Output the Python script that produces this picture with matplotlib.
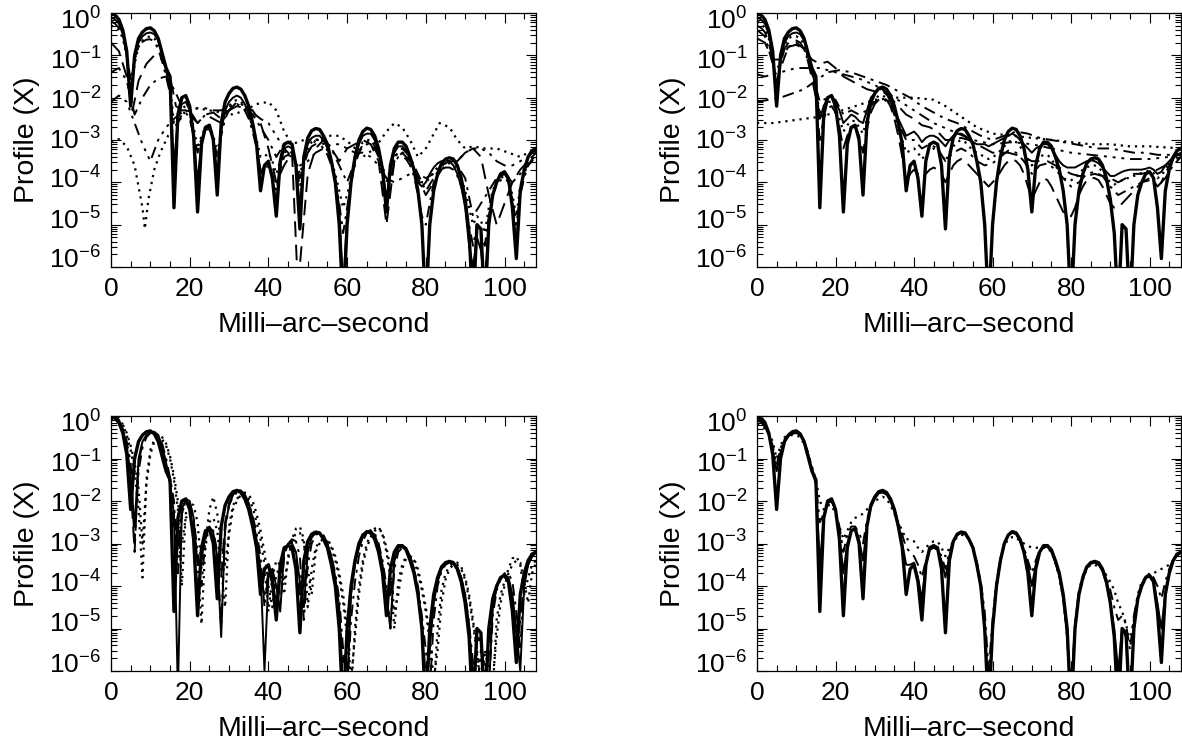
import numpy as np
import matplotlib
matplotlib.use("Agg")
import matplotlib.pyplot as plt
from matplotlib.ticker import FixedLocator, NullFormatter
from matplotlib.transforms import ScaledTranslation

plt.rcParams['font.family'] = ['Liberation Sans', 'DejaVu Sans']
plt.rcParams['mathtext.fontset'] = 'custom'
plt.rcParams['mathtext.rm'] = 'Liberation Sans'
plt.rcParams['mathtext.it'] = 'Liberation Sans:italic'

# sampling positions (milli-arc-second)
x1 = list(range(0, 109))
x2 = list(range(0, 109, 2))

# all profiles below are log10 of the value

# ideal profile, the thick solid line drawn in every panel
base_log = [
    0.0, -0.05, -0.15, -0.4, -0.9, -2.2, -1.0, -0.6, -0.45, -0.37,
    -0.35, -0.42, -0.6, -0.95, -1.3, -1.5, -4.6, -2.4, -2.0, -1.95,
    -2.2, -2.9, -4.7, -3.1, -2.7, -2.65, -3.0, -4.3, -2.6, -2.1,
    -1.9, -1.78, -1.75, -1.8, -1.95, -2.2, -2.6, -3.1, -4.2, -3.6,
    -3.5, -3.9, -4.8, -3.5, -3.1, -3.05, -3.1, -3.6, -5.1, -3.4,
    -2.95, -2.78, -2.73, -2.75, -2.9, -3.1, -3.5, -4.0, -5.0, -7.0,
    -5.0, -4.0, -3.4, -3.0, -2.8, -2.72, -2.75, -2.9, -3.2, -3.7,
    -4.7, -3.6, -3.2, -3.05, -3.05, -3.15, -3.4, -3.7, -4.2, -5.0,
    -7.0, -5.0, -4.2, -3.8, -3.55, -3.45, -3.42, -3.45, -3.6, -3.9,
    -4.4, -5.2, -7.0, -5.0, -5.1, -7.0, -5.0, -4.3, -4.0, -3.8,
    -3.75, -3.9, -4.6, -5.8, -4.2, -3.7, -3.4, -3.25, -3.2]

# ---- top left
tl_solid_log = [
    -0.1, -0.15, -0.25, -0.5, -1.0, -2.0, -1.1, -0.7, -0.55, -0.48,
    -0.46, -0.5, -0.65, -0.95, -1.35, -1.8, -3.6, -2.5, -2.15, -2.1,
    -2.3, -2.9, -4.0, -3.0, -2.7, -2.7, -3.0, -3.8, -2.8, -2.3,
    -2.1, -2.0, -1.95, -2.0, -2.15, -2.4, -2.7, -3.1, -3.8, -3.6,
    -3.55, -3.9, -4.5, -3.6, -3.2, -3.15, -3.2, -3.6, -4.6, -3.5,
    -3.1, -2.95, -2.9, -2.9, -3.0, -3.2, -3.5, -3.9, -4.6, -6.5,
    -4.8, -4.0, -3.5, -3.1, -2.9, -2.85, -2.85, -3.0, -3.3, -3.7,
    -4.4, -3.7, -3.3, -3.15, -3.15, -3.25, -3.45, -3.7, -4.0, -4.1,
    -4.0, -3.8, -3.65, -3.55, -3.5, -3.48, -3.5, -3.6, -3.8, -4.1,
    -4.6, -5.5, -6.0, -5.3, -5.6, -6.5, -4.9, -4.3, -4.0, -3.85,
    -3.8, -3.95, -4.5, -5.5, -4.2, -3.7, -3.4, -3.3, -3.25]
tl_dot_log = [
    -0.3, -0.33, -0.4, -0.6, -1.0, -1.9, -1.2, -0.8, -0.65, -0.58,
    -0.55, -0.6, -0.75, -1.0, -1.35, -1.7, -2.6, -2.5, -2.25, -2.2,
    -2.35, -2.7, -3.2, -2.9, -2.7, -2.7, -2.9, -3.3, -2.8, -2.4,
    -2.2, -2.1, -2.05, -2.1, -2.2, -2.4, -2.7, -3.0, -3.4, -3.4,
    -3.3, -3.5, -3.8, -3.5, -3.3, -3.25, -3.3, -3.5, -3.8, -3.5,
    -3.2, -3.05, -3.0, -3.0, -3.1, -3.25, -3.5, -3.8, -4.2, -4.6,
    -4.3, -3.9, -3.5, -3.2, -3.05, -3.0, -3.0, -3.1, -3.3, -3.6,
    -4.0, -3.7, -3.4, -3.3, -3.3, -3.35, -3.5, -3.7, -3.9, -4.0,
    -4.0, -3.9, -3.75, -3.65, -3.6, -3.55, -3.55, -3.6, -3.7, -3.9,
    -4.2, -4.6, -5.0, -4.8, -4.9, -5.2, -4.6, -4.2, -4.0, -3.9,
    -3.85, -3.95, -4.3, -4.8, -4.1, -3.8, -3.55, -3.4, -3.35]
tl_dashdot2_log = [
    -0.2, -0.25, -0.35, -0.55, -0.95, -1.6, -1.1, -0.8, -0.68, -0.63,
    -0.62, -0.68, -0.85, -1.15, -1.5, -1.9, -2.7, -2.6, -2.4, -2.35,
    -2.5, -2.9, -3.3, -2.95, -2.75, -2.75, -2.95, -3.4, -2.9, -2.5,
    -2.3, -2.2, -2.15, -2.2, -2.3, -2.5, -2.8, -3.2, -3.7, -3.7,
    -3.6, -3.8, -4.2, -3.7, -3.4, -3.35, -3.4, -3.6, -4.1, -3.6,
    -3.3, -3.15, -3.1, -3.1, -3.2, -3.35, -3.6, -4.0, -4.5, -5.2,
    -4.6, -4.0, -3.6, -3.3, -3.15, -3.1, -3.1, -3.2, -3.4, -3.8,
    -4.4, -3.9, -3.55, -3.4, -3.4, -3.45, -3.6, -3.85, -4.3, -4.8,
    -5.0, -4.5, -4.0, -3.8, -3.7, -3.65, -3.65, -3.7, -3.85, -4.1,
    -4.5, -5.0, -5.5, -5.0, -5.2, -5.5, -4.8, -4.3, -4.05, -3.95,
    -3.9, -4.0, -4.4, -5.0, -4.3, -3.9, -3.6, -3.45, -3.4]
tl_faint_x = [0, 2, 4, 6, 7, 8, 8.6, 9.5, 11, 12.5, 14.5, 17, 19, 22, 25, 28, 31,
              34, 37, 40, 42, 44, 46, 49, 52, 55, 58, 61, 64, 67, 70, 72, 74, 76,
              78, 80, 83.5, 86, 88, 90, 92, 95, 98, 101, 104, 108]
tl_faint_log = [-3.05, -2.98, -3.15, -3.6, -4.1, -4.6, -5.1, -4.4, -3.7, -3.3,
                -2.9, -2.6, -2.3, -2.25, -2.3, -2.35, -2.4, -2.3, -2.15, -2.1,
                -2.3, -2.8, -3.1, -3.0, -3.0, -2.9, -2.9, -3.1, -3.4, -3.2,
                -2.8, -2.6, -2.7, -3.0, -3.4, -3.2, -2.6, -2.7, -3.0, -3.2,
                -3.15, -3.2, -3.2, -3.3, -3.4, -3.2]
tl_dash_x = [0, 2, 4, 5.5, 7, 9, 11, 13, 15, 16.5, 18, 20, 22, 24, 26, 28, 30,
             32, 34, 36, 38, 40, 42, 44, 46, 47.5, 50, 52, 54, 56, 58, 60, 62, 64,
             66, 68, 70, 72, 74, 76, 78, 80, 82, 84, 86, 88, 90, 92, 94, 96, 98,
             100, 102, 104, 106, 108]
tl_dash_log = [-0.7, -0.9, -1.5, -2.3, -1.6, -1.2, -1.0, -1.1, -1.5, -2.2,
               -2.3, -2.3, -2.6, -2.4, -2.35, -2.5, -2.3, -2.2, -2.2, -2.3,
               -2.6, -3.2, -4.0, -3.6, -3.3, -6.5, -3.8, -3.2, -3.0, -3.2,
               -3.5, -3.2, -3.1, -3.0, -3.1, -3.5, -5.0, -3.5, -3.3, -3.5,
               -3.9, -4.3, -4.0, -3.7, -3.5, -3.5, -3.3, -3.2, -3.4, -4.3,
               -5.0, -4.5, -4.0, -3.7, -3.5, -3.3]
tl_dd3_log = [-2.1, -1.95, -2.1, -2.6, -3.1, -3.5, -3.0, -2.7, -2.5, -2.35,
              -2.3, -2.25, -2.25, -2.3, -2.3, -2.2, -2.2, -2.25, -2.35, -2.5,
              -2.6, -2.9, -3.2, -3.4, -3.6, -3.5, -3.3, -3.2, -3.1, -3.1,
              -3.2, -3.3, -3.3, -3.4, -3.6, -3.9, -4.0, -3.9, -3.8, -3.8,
              -3.9, -3.8, -3.6, -3.5, -3.5, -3.3, -3.2, -3.2, -3.3, -3.5,
              -3.6, -3.6, -3.5, -3.4, -3.3]
tl_dashdot_log = [-1.4, -1.3, -1.6, -2.4, -2.0, -1.7, -1.55, -1.5, -1.8, -2.2,
                  -2.4, -2.6, -2.4, -2.5, -2.6, -2.3, -2.1, -2.2, -2.4, -2.7,
                  -3.0, -3.4, -3.1, -3.2, -3.9, -3.3, -3.0, -3.0, -3.2, -3.6,
                  -4.0, -3.5, -3.1, -3.0, -3.3, -4.0, -3.4, -3.2, -3.4, -3.8,
                  -4.2, -3.9, -3.6, -3.5, -3.6, -3.9, -4.8, -4.5, -4.2, -3.9,
                  -3.8, -4.0, -3.8, -3.6, -3.4]

# ---- top right
tr_solid_log = [
    -0.1, -0.15, -0.25, -0.5, -1.0, -2.0, -1.1, -0.7, -0.55, -0.48,
    -0.46, -0.5, -0.65, -0.95, -1.35, -1.8, -2.5, -2.2, -2.0, -1.95,
    -2.1, -2.3, -2.6, -2.5, -2.4, -2.45, -2.55, -2.6, -2.3, -2.0,
    -1.9, -1.8, -1.8, -1.9, -2.1, -2.3, -2.5, -2.7, -2.9, -2.85,
    -2.8, -2.9, -3.05, -2.95, -2.9, -2.9, -2.95, -3.05, -3.15, -3.0,
    -2.9, -2.85, -2.85, -2.9, -3.0, -3.05, -3.1, -3.1, -3.1, -3.15,
    -3.1, -3.05, -3.0, -2.95, -2.9, -2.85, -2.9, -3.0, -3.1, -3.2,
    -3.3, -3.2, -3.15, -3.1, -3.1, -3.2, -3.35, -3.5, -3.6, -3.65,
    -3.65, -3.65, -3.6, -3.55, -3.5, -3.48, -3.5, -3.55, -3.65, -3.75,
    -3.85, -3.85, -3.8, -3.75, -3.72, -3.7, -3.7, -3.7, -3.7, -3.68,
    -3.65, -3.7, -3.8, -3.75, -3.6, -3.5, -3.4, -3.35, -3.3]
tr_dot2_log = [
    -0.2, -0.25, -0.35, -0.6, -1.05, -1.9, -1.15, -0.75, -0.6, -0.55,
    -0.55, -0.6, -0.75, -1.05, -1.4, -1.8, -2.4, -2.2, -2.1, -2.1,
    -2.25, -2.5, -2.8, -2.65, -2.55, -2.55, -2.7, -2.85, -2.5, -2.2,
    -2.05, -1.95, -1.95, -2.0, -2.15, -2.4, -2.7, -3.0, -3.3, -3.25,
    -3.2, -3.3, -3.45, -3.35, -3.25, -3.2, -3.25, -3.35, -3.5, -3.3,
    -3.15, -3.05, -3.0, -3.05, -3.15, -3.25, -3.3, -3.35, -3.4, -3.45,
    -3.4, -3.35, -3.25, -3.15, -3.05, -3.0, -3.05, -3.15, -3.3, -3.45,
    -3.6, -3.5, -3.4, -3.35, -3.35, -3.45, -3.6, -3.75, -3.9, -3.95,
    -3.95, -3.9, -3.8, -3.7, -3.65, -3.6, -3.6, -3.65, -3.75, -3.9,
    -4.0, -4.05, -4.0, -3.95, -3.9, -3.9, -3.85, -3.8, -3.78, -3.75,
    -3.72, -3.78, -3.9, -3.85, -3.7, -3.55, -3.45, -3.35, -3.3]
tr_dash2_log = [
    -0.3, -0.35, -0.45, -0.7, -1.1, -1.7, -1.2, -0.85, -0.7, -0.65,
    -0.65, -0.7, -0.85, -1.15, -1.55, -2.0, -3.0, -2.5, -2.25, -2.2,
    -2.35, -2.7, -3.2, -2.9, -2.7, -2.7, -2.9, -3.3, -2.75, -2.35,
    -2.15, -2.05, -2.0, -2.05, -2.2, -2.5, -2.9, -3.4, -4.0, -3.8,
    -3.7, -3.8, -3.9, -3.8, -3.7, -3.65, -3.7, -3.8, -4.0, -3.8,
    -3.6, -3.5, -3.45, -3.5, -3.6, -3.7, -3.8, -3.9, -4.0, -4.1,
    -4.0, -3.9, -3.75, -3.6, -3.5, -3.45, -3.5, -3.6, -3.8, -4.1,
    -4.4, -4.2, -4.0, -3.9, -3.95, -4.1, -4.3, -4.5, -4.7, -4.8,
    -4.8, -4.6, -4.3, -4.1, -3.95, -3.9, -3.9, -3.95, -4.1, -4.3,
    -4.5, -4.6, -4.6, -4.5, -4.4, -4.3, -4.2, -4.1, -4.0, -3.95,
    -3.9, -3.95, -4.1, -4.0, -3.8, -3.6, -3.45, -3.35, -3.3]
tr_dashdot2_log = [-0.4, -0.55, -1.2, -1.3, -0.8, -0.7, -0.85, -1.4, -2.1, -2.0,
                   -2.05, -2.4, -2.3, -2.4, -2.3, -2.1, -2.0, -2.2, -2.6, -3.0,
                   -3.0, -3.2, -3.1, -3.2, -3.5, -3.3, -3.2, -3.3, -3.5, -3.6,
                   -3.55, -3.4, -3.25, -3.3, -3.5, -3.8, -3.6, -3.55, -3.7, -3.9,
                   -4.1, -4.0, -3.8, -3.75, -3.85, -4.1, -4.3, -4.2, -4.1, -4.0,
                   -3.95, -4.1, -3.9, -3.6, -3.4]
tr_halo_x = [0, 4, 8, 12, 16, 20, 25, 30, 35, 40, 45, 48, 52, 56, 60, 65, 70,
             75, 80, 85, 90, 95, 100, 105, 108]
tr_halo_log = [-2.6, -2.6, -2.55, -2.5, -2.45, -2.35, -2.2, -2.05, -2.0, -2.0,
               -2.05, -2.2, -2.45, -2.7, -2.85, -2.9, -2.95, -3.0, -3.05, -3.1,
               -3.1, -3.15, -3.15, -3.18, -3.2]
tr_x3 = list(range(0, 109, 3))
tr_dashdot_log = [-2.1, -2.05, -2.0, -1.9, -1.8, -1.6, -1.4, -1.35, -1.4, -1.5,
                  -1.6, -1.7, -1.85, -2.0, -2.2, -2.35, -2.5, -2.6, -2.75, -2.9,
                  -3.0, -2.9, -2.8, -2.85, -2.95, -3.0, -3.05, -3.1, -3.15, -3.2,
                  -3.2, -3.25, -3.3, -3.3, -3.35, -3.35, -3.35]
tr_dd3_x = [0, 2, 4, 6, 8, 10, 12, 14, 16, 18, 20, 22, 24, 26, 30, 35, 40, 45,
            50, 55, 60, 65, 70, 75, 80, 85, 90, 95, 100, 105, 108]
tr_dd3_log = [-1.45, -1.5, -1.45, -1.4, -1.35, -1.3, -1.3, -1.3, -1.3, -1.35,
              -1.4, -1.45, -1.5, -1.55, -1.7, -2.0, -2.3, -2.6, -2.8, -3.0,
              -3.1, -3.05, -3.1, -3.2, -3.3, -3.35, -3.4, -3.45, -3.45, -3.4,
              -3.35]
tr_dash_log = [-0.6, -0.7, -1.1, -1.1, -0.8, -0.75, -0.85, -1.1, -1.2, -1.15,
               -1.3, -1.5, -1.6, -1.7, -1.8, -1.85, -1.85, -2.0, -2.2, -2.4,
               -2.5, -2.65, -2.7, -2.8, -3.0, -3.0, -2.95, -3.0, -3.1, -3.2,
               -3.3, -3.3, -3.3, -3.35, -3.4, -3.5, -3.5, -3.5, -3.6, -3.7,
               -3.8, -3.85, -3.85, -3.8, -3.85, -3.9, -4.0, -3.9, -3.8, -3.8,
               -3.75, -3.7, -3.6, -3.5, -3.4]

# ---- bottom left
bl_solid_log = [
    -0.02, -0.03, -0.1, -0.3, -0.7, -1.4, -2.6, -1.0, -0.6, -0.45,
    -0.38, -0.37, -0.45, -0.7, -1.1, -1.6, -2.3, -6.5, -2.2, -1.95,
    -2.0, -2.4, -3.5, -3.4, -2.75, -2.6, -2.75, -3.3, -5.2, -2.6,
    -2.1, -1.85, -1.75, -1.75, -1.85, -2.05, -2.4, -2.9, -3.6, -6.0,
    -3.8, -3.6, -4.0, -4.6, -3.2, -3.0, -3.0, -3.2, -3.9, -4.5,
    -3.2, -2.85, -2.75, -2.75, -2.85, -3.0, -3.3, -3.8, -4.5, -6.5,
    -6.5, -4.2, -3.5, -3.1, -2.85, -2.72, -2.7, -2.8, -3.05, -3.5,
    -4.2, -5.0, -3.4, -3.1, -3.05, -3.1, -3.3, -3.6, -4.1, -5.0,
    -6.5, -5.5, -4.4, -3.9, -3.6, -3.47, -3.42, -3.45, -3.55, -3.8,
    -4.2, -4.9, -6.5, -5.2, -5.3, -6.5, -6.5, -4.5, -4.05, -3.8,
    -3.72, -3.8, -4.2, -5.0, -6.0, -4.0, -3.5, -3.3, -3.2]
bl_dot_log = [
    -0.05, 0.0, -0.05, -0.2, -0.45, -0.8, -1.3, -2.2, -3.8, -1.5,
    -0.8, -0.55, -0.45, -0.5, -0.65, -0.95, -1.4, -2.0, -3.0, -2.4,
    -2.3, -2.6, -3.5, -4.9, -3.0, -2.2, -1.9, -2.3, -3.0, -3.5,
    -2.8, -2.2, -2.0, -1.85, -1.8, -1.85, -2.0, -2.3, -2.7, -3.2,
    -4.0, -4.5, -3.7, -3.6, -3.9, -3.4, -2.9, -2.65, -2.6, -2.9,
    -4.5, -3.6, -3.1, -2.95, -2.9, -2.95, -3.1, -3.4, -3.8, -4.4,
    -5.2, -6.5, -5.0, -4.0, -3.4, -3.0, -2.8, -2.65, -2.6, -2.8,
    -3.2, -3.8, -5.0, -3.9, -3.5, -3.3, -3.3, -3.4, -3.7, -4.1,
    -4.6, -5.3, -6.5, -5.0, -4.1, -3.7, -3.55, -3.45, -3.45, -3.55,
    -3.8, -4.2, -4.8, -5.5, -6.5, -5.5, -6.0, -6.5, -4.8, -4.2,
    -3.9, -3.6, -3.35, -3.3, -3.5, -4.2, -3.8, -3.5, -3.4]
bl_dot2_log = [
    -0.1, -0.08, -0.1, -0.2, -0.4, -0.7, -1.1, -1.7, -3.0, -1.6,
    -0.9, -0.6, -0.5, -0.55, -0.7, -1.0, -1.5, -2.2, -4.0, -2.3,
    -2.05, -2.1, -2.5, -3.6, -3.1, -2.5, -2.4, -2.7, -3.6, -4.5,
    -2.6, -2.1, -1.95, -1.85, -1.85, -1.95, -2.15, -2.5, -2.9, -3.5,
    -4.6, -3.8, -3.4, -3.5, -4.2, -3.3, -2.95, -2.75, -2.75, -3.0,
    -3.6, -4.2, -3.2, -3.0, -2.9, -2.9, -3.05, -3.3, -3.7, -4.2,
    -5.0, -6.2, -5.2, -4.2, -3.5, -3.1, -2.85, -2.7, -2.65, -2.75,
    -3.1, -3.6, -4.6, -4.2, -3.6, -3.35, -3.3, -3.35, -3.6, -4.0,
    -4.5, -5.2, -6.2, -5.5, -4.4, -3.85, -3.6, -3.5, -3.5, -3.6,
    -3.85, -4.3, -4.9, -5.6, -6.2, -5.6, -5.8, -6.2, -5.2, -4.4,
    -4.0, -3.7, -3.5, -3.4, -3.45, -3.9, -4.4, -3.7, -3.45]
bl_dash_log = [
    0.0, -0.03, -0.12, -0.35, -0.75, -1.6, -3.2, -1.1, -0.65, -0.47,
    -0.4, -0.4, -0.5, -0.75, -1.15, -1.6, -2.6, -3.2, -2.3, -2.0,
    -2.1, -2.6, -4.2, -3.3, -2.8, -2.7, -2.85, -3.6, -3.8, -2.5,
    -2.05, -1.85, -1.77, -1.78, -1.9, -2.15, -2.5, -3.0, -3.8, -4.2,
    -3.7, -3.7, -4.6, -3.8, -3.2, -3.05, -3.05, -3.3, -4.2, -4.2,
    -3.1, -2.85, -2.75, -2.77, -2.9, -3.1, -3.45, -3.9, -4.7, -5.8,
    -5.5, -4.1, -3.45, -3.05, -2.85, -2.75, -2.72, -2.85, -3.1, -3.6,
    -4.5, -4.2, -3.4, -3.1, -3.08, -3.15, -3.35, -3.65, -4.1, -4.8,
    -6.2, -5.3, -4.3, -3.85, -3.6, -3.48, -3.43, -3.47, -3.6, -3.85,
    -4.3, -5.0, -6.2, -5.3, -5.2, -6.2, -5.6, -4.5, -4.0, -3.8,
    -3.72, -3.85, -4.3, -5.5, -4.8, -3.9, -3.5, -3.3, -3.22]
bl_dashdot_log = [
    -0.02, -0.05, -0.15, -0.3, -0.6, -1.1, -3.0, -1.3, -0.75, -0.5,
    -0.4, -0.38, -0.45, -0.65, -1.0, -1.45, -2.0, -3.7, -2.3, -2.0,
    -2.05, -2.4, -3.2, -4.0, -2.9, -2.6, -2.7, -3.2, -5.0, -2.7,
    -2.1, -1.9, -1.8, -1.78, -1.85, -2.05, -2.35, -2.75, -3.3, -4.5,
    -3.7, -3.6, -4.3, -4.5, -3.3, -3.0, -2.9, -2.95, -3.3, -4.8,
    -3.5, -3.0, -2.8, -2.75, -2.8, -3.0, -3.3, -3.7, -4.3, -5.5,
    -6.5, -4.8, -3.9, -3.3, -2.95, -2.75, -2.68, -2.75, -3.0, -3.4,
    -4.0, -5.0, -3.6, -3.2, -3.1, -3.15, -3.3, -3.6, -4.0, -4.7,
    -5.5, -6.5, -4.8, -4.0, -3.65, -3.5, -3.45, -3.45, -3.55, -3.8,
    -4.2, -4.9, -5.8, -6.5, -5.5, -5.8, -6.5, -4.7, -4.1, -3.85,
    -3.7, -3.7, -3.9, -4.6, -5.5, -3.9, -3.5, -3.3, -3.2]

# ---- bottom right
br_solid_log = [
    -0.1, -0.15, -0.25, -0.45, -0.8, -1.3, -0.85, -0.6, -0.47, -0.42,
    -0.4, -0.45, -0.6, -0.9, -1.3, -1.6, -3.5, -2.4, -2.05, -2.0,
    -2.2, -2.8, -3.7, -3.0, -2.7, -2.65, -2.9, -3.4, -2.6, -2.15,
    -1.95, -1.82, -1.8, -1.85, -2.0, -2.25, -2.6, -3.0, -3.5, -3.5,
    -3.45, -3.8, -4.3, -3.5, -3.15, -3.1, -3.15, -3.4, -3.8, -3.3,
    -2.95, -2.8, -2.75, -2.78, -2.9, -3.1, -3.5, -4.0, -5.0, -6.8,
    -5.0, -4.0, -3.4, -3.0, -2.8, -2.75, -2.78, -2.95, -3.2, -3.5,
    -4.0, -3.5, -3.2, -3.08, -3.08, -3.2, -3.45, -3.75, -4.3, -5.2,
    -6.8, -5.0, -4.2, -3.8, -3.58, -3.48, -3.45, -3.5, -3.65, -3.95,
    -4.4, -5.0, -6.0, -5.0, -5.2, -6.8, -5.0, -4.3, -4.0, -3.8,
    -3.78, -3.9, -4.4, -5.0, -4.2, -3.7, -3.4, -3.28, -3.22]
br_dot_log = [
    -0.2, -0.22, -0.3, -0.4, -0.6, -1.0, -0.7, -0.5, -0.45, -0.45,
    -0.45, -0.5, -0.65, -0.9, -1.2, -1.5, -2.0, -2.2, -2.1, -2.1,
    -2.3, -2.6, -2.9, -2.7, -2.5, -2.4, -2.35, -2.3, -2.2, -2.1,
    -2.0, -1.95, -1.9, -1.95, -2.1, -2.3, -2.5, -2.7, -2.9, -2.9,
    -2.95, -3.1, -3.2, -3.1, -3.0, -2.95, -2.95, -3.1, -3.3, -3.1,
    -2.95, -2.85, -2.8, -2.8, -2.9, -3.1, -3.5, -4.0, -5.0, -6.8,
    -5.0, -4.0, -3.4, -3.05, -2.9, -2.85, -2.85, -2.95, -3.0, -3.05,
    -3.1, -3.1, -3.1, -3.1, -3.1, -3.2, -3.45, -3.8, -4.3, -5.2,
    -6.8, -5.0, -4.2, -3.85, -3.6, -3.5, -3.5, -3.55, -3.6, -3.75,
    -3.9, -4.1, -4.4, -4.6, -4.9, -5.3, -4.8, -4.2, -3.9, -3.8,
    -3.7, -3.7, -3.65, -3.6, -3.55, -3.5, -3.4, -3.3, -3.2]
br_dashdot_log = [
    -0.05, -0.1, -0.2, -0.4, -0.7, -1.15, -0.75, -0.55, -0.45, -0.4,
    -0.4, -0.45, -0.6, -0.85, -1.2, -1.6, -2.5, -2.3, -2.05, -2.0,
    -2.2, -2.6, -3.2, -2.8, -2.6, -2.6, -2.75, -3.0, -2.45, -2.1,
    -1.9, -1.8, -1.78, -1.82, -1.95, -2.2, -2.5, -2.8, -3.1, -3.2,
    -3.3, -3.5, -3.8, -3.4, -3.1, -3.05, -3.1, -3.3, -3.6, -3.2,
    -2.95, -2.8, -2.75, -2.78, -2.9, -3.1, -3.45, -3.9, -4.6, -6.0,
    -4.8, -3.9, -3.35, -3.0, -2.8, -2.74, -2.77, -2.9, -3.1, -3.4,
    -3.7, -3.4, -3.15, -3.05, -3.07, -3.18, -3.4, -3.7, -4.2, -5.0,
    -6.5, -4.9, -4.1, -3.75, -3.55, -3.45, -3.43, -3.48, -3.6, -3.8,
    -4.1, -4.5, -4.8, -4.7, -4.9, -5.5, -4.7, -4.2, -3.95, -3.78,
    -3.72, -3.8, -4.0, -4.3, -3.9, -3.6, -3.38, -3.25, -3.2]

THICK = dict(color='black', lw=2.4, ls='-')
SOLID = dict(color='black', lw=1.4, ls='-')
DOT = dict(color='black', lw=1.6, ls=(0, (1, 2.2)))
DASH = dict(color='black', lw=1.4, ls=(0, (8, 4)))
DASHDOT = dict(color='black', lw=1.4, ls=(0, (6, 3, 1.5, 3)))
DD3 = dict(color='black', lw=1.4, ls=(0, (6, 3, 1.5, 3, 1.5, 3, 1.5, 3)))


def prof(v):
    return 10.0 ** np.array(v)


fig = plt.figure(figsize=(11.82, 7.43), dpi=100)
W, H = 1182.0, 743.0
boxes = [(111, 13, 536, 267), (757, 13, 1181, 267),
         (111, 416, 536, 671), (757, 416, 1181, 671)]
axs = []
for (l, t, r, b) in boxes:
    axs.append(fig.add_axes([l / W, 1 - b / H, (r - l) / W, (b - t) / H]))

ax = axs[0]
ax.plot(x1, prof(tl_dot_log), **DOT)
ax.plot(tl_faint_x, prof(tl_faint_log), **DOT)
ax.plot(tl_dash_x, prof(tl_dash_log), **DASH)
ax.plot(x2, prof(tl_dd3_log), **DD3)
ax.plot(x2, prof(tl_dashdot_log), **DASHDOT)
ax.plot(x1, prof(tl_dashdot2_log), **DASHDOT)
ax.plot(x1, prof(tl_solid_log), **SOLID)
ax.plot(x1, prof(base_log), **THICK)

ax = axs[1]
ax.plot(tr_halo_x, prof(tr_halo_log), **DOT)
ax.plot(x1, prof(tr_dot2_log), **DOT)
ax.plot(tr_x3, prof(tr_dashdot_log), **DASHDOT)
ax.plot(x2, prof(tr_dashdot2_log), **DASHDOT)
ax.plot(tr_dd3_x, prof(tr_dd3_log), **DD3)
ax.plot(x2, prof(tr_dash_log), **DASH)
ax.plot(x1, prof(tr_dash2_log), **DASH)
ax.plot(x1, prof(tr_solid_log), **SOLID)
ax.plot(x1, prof(base_log), **THICK)

ax = axs[2]
ax.plot(x1, prof(bl_dot_log), **DOT)
ax.plot(x1, prof(bl_dot2_log), **DOT)
ax.plot(x1, prof(bl_dashdot_log), **DASHDOT)
ax.plot(x1, prof(bl_dash_log), **DASH)
ax.plot(x1, prof(bl_solid_log), **SOLID)
ax.plot(x1, prof(base_log), **THICK)

ax = axs[3]
ax.plot(x1, prof(br_dot_log), **DOT)
ax.plot(x1, prof(br_dashdot_log), **DASHDOT)
ax.plot(x1, prof(br_solid_log), **SOLID)
ax.plot(x1, prof(base_log), **THICK)

ylabels = [r'$10^{-6}$', r'$10^{-5}$', r'$10^{-4}$', r'$10^{-3}$',
           r'$10^{-2}$', r'$10^{-1}$', r'$10^{0}$']
for ax in axs:
    ax.set_yscale('log')
    ax.set_xlim(0, 108)
    ax.set_ylim(1e-6, 1.0)
    ax.xaxis.set_major_locator(FixedLocator([0, 20, 40, 60, 80, 100]))
    ax.xaxis.set_minor_locator(FixedLocator(list(range(0, 109, 5))))
    ax.yaxis.set_major_locator(FixedLocator([1e-6, 1e-5, 1e-4, 1e-3, 1e-2, 1e-1, 1]))
    minors = [m * 10.0 ** e for e in range(-6, 0) for m in range(2, 10)]
    ax.yaxis.set_minor_locator(FixedLocator(minors))
    ax.yaxis.set_minor_formatter(NullFormatter())
    ax.set_yticklabels(ylabels)
    ax.tick_params(which='both', direction='in', top=True, right=True,
                   labelsize=19, width=0.8)
    ax.tick_params(which='major', length=7, pad=7)
    ax.tick_params(which='minor', length=4)
    for sp in ax.spines.values():
        sp.set_linewidth(0.9)
    ax.set_xlabel('Milli\u2013arc\u2013second', fontsize=20.5)
    ax.set_ylabel('Profile (X)', fontsize=20.5)
    ax.xaxis.set_label_coords(0.5, -0.228)
    ax.xaxis.label.set_va('center')
    ax.yaxis.set_label_coords(-0.198, 0.5)
    ax.yaxis.label.set_va('center')
    # nudge the decade labels the way the original spacing looks
    for k, tick in enumerate(ax.yaxis.get_major_ticks()):
        dy = 5 - 14 * (6 - k) / 6.0
        tick.label1.set_transform(tick.label1.get_transform() +
                                  ScaledTranslation(0, -dy / 100.0, fig.dpi_scale_trans))

fig.savefig('out.png', dpi=100)
